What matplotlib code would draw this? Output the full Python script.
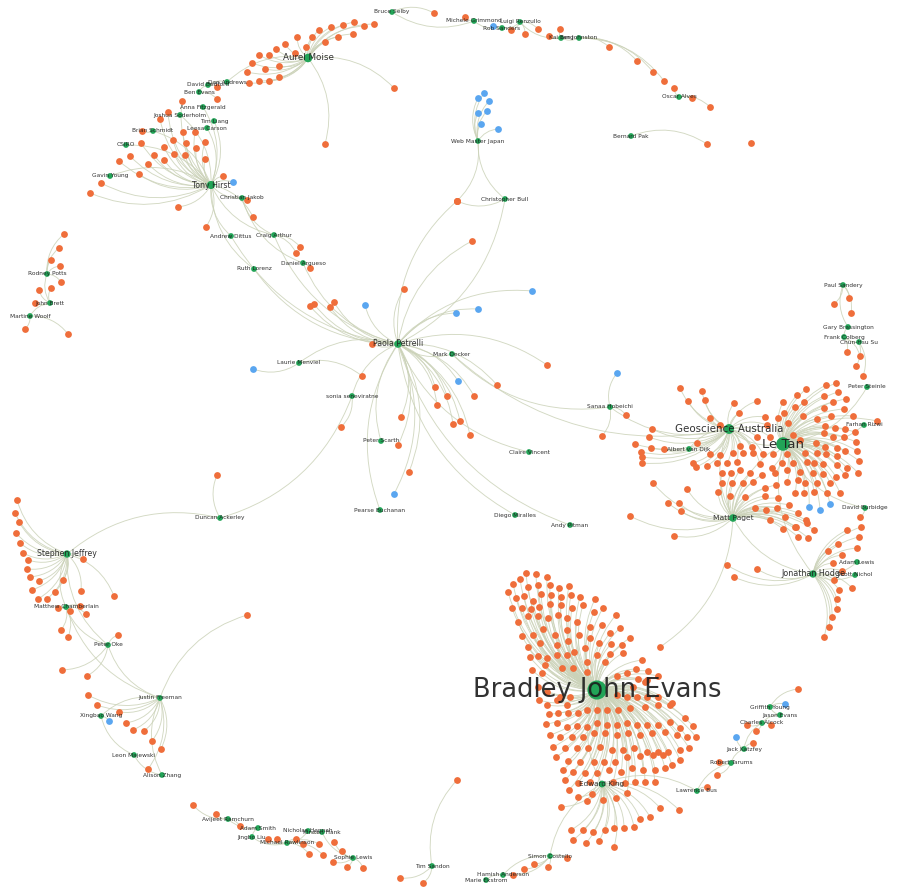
import matplotlib.pyplot as plt
from matplotlib.patches import FancyArrowPatch
import numpy as np

# ---- data: layout positions (x, y in layout pixels, y down) ----

hub_names = ['Bruce Selby', 'Michele Grimmond', 'Rob Sanders', 'Luigi Renzullo', 'Kai Berg',
             'Ian Johnston', 'Oscar Alves', 'Bernard Pak', 'Web Master Japan', 'Christopher Bull',
             'Aurel Moise', 'Dan Andrews', 'David Bedford', 'Ben Evans', 'Anna Fitzgerald',
             'Joshua Soderholm', 'Tim Liang', 'Leesa Carson', 'Brian Schmidt', 'CSIRO',
             'Gavin Young', 'Tony Hirst', 'Christian Jakob', 'Andrew Dittus', 'Craig Arthur',
             'Daniel Argueso', 'Ruth Lorenz', 'Rodney Potts', 'John Brett', 'Martine Woolf',
             'Paola Petrelli', 'Mark Decker', 'Laurie Menviel', 'sonia seneviratne', 'Peter Scarth',
             'Pearse Buchanan', 'Claire Vincent', 'Diego Miralles', 'Andy Pitman', 'Sanaa Hobeichi',
             'Geoscience Australia', 'Le Tan', 'Albert van Dijk', 'Matt Paget', 'Paul Sandery',
             'Gary Brassington', 'Frank Colberg', 'Chun-Hsu Su', 'Peter Steinle', 'Farhan Rizwi',
             'David Burbidge', 'Adam Lewis', 'Jonathan Hodge', 'Scott Nichol', 'Stephen Jeffrey',
             'Matthew Chamberlain', 'Peter Oke', 'Justin Freeman', 'Xingbao Wang', 'Leon Majewski',
             'Alison Zhang', 'Duncan Ackerley', 'Avijeet Ramchurn', 'Adam Smith', 'Jingbo Liu',
             'Michael Rawlinson', 'Nicholas Hannah', 'Kirsten Hank', 'Sophie Lewis', 'Tim Sandon',
             'Simon Costello', 'Hamish Anderson', 'Marie Ekstrom', 'Edward King', 'Bradley John Evans',
             'Griffith Young', 'Jason Evans', 'Charles Alcock', 'Jack Katzfey', 'Robert Tarums',
             'Lawrence Bus']
hub_x = [392, 474, 502, 520, 561, 579, 679, 631, 478, 505,
         308, 227, 208, 199, 203, 180, 214, 207, 153, 126,
         110, 211, 242, 231, 274, 303, 254, 47, 50, 30,
         398, 452, 299, 352, 381, 380, 529, 515, 570, 610,
         729, 783, 689, 733, 843, 848, 844, 859, 867, 864,
         865, 857, 813, 855, 67, 66, 108, 160, 101, 134,
         162, 220, 228, 258, 252, 287, 308, 322, 353, 432,
         550, 503, 486, 602, 597, 770, 780, 762, 744, 731, 697]
hub_y = [12, 21, 28, 22, 38, 38, 97, 136, 141, 199,
         58, 82, 85, 92, 107, 115, 121, 128, 131, 145,
         176, 185, 198, 236, 235, 263, 269, 274, 303, 316,
         344, 354, 363, 396, 441, 510, 452, 515, 525, 407,
         429, 444, 449, 518, 285, 327, 337, 342, 387, 425,
         508, 562, 574, 575, 554, 607, 645, 698, 716, 755,
         775, 518, 819, 828, 837, 843, 831, 832, 858, 866,
         856, 875, 880, 784, 690, 707, 715, 723, 749, 763, 791]

# publications / outputs linked to one person (orange)
leaves = {
    'Aurel Moise': '374,24 364,26 354,22 343,25 331,27 319,30 353,34 338,37 325,42 312,37 297,37 '
                   '306,47 285,44 276,49 295,53 269,55 259,55 252,63 279,66 265,69 247,72 279,77 '
                   '269,81 259,81 249,83 394,88 325,144',
    'Bruce Selby': '434,13',
    'Michele Grimmond': '465,17',
    'Luigi Renzullo': '511,30 525,34 538,29',
    'Kai Berg': '549,36 560,29',
    'Ian Johnston': '609,47 637,61 653,72 664,81',
    'Oscar Alves': '674,88 692,98 710,107',
    'Bernard Pak': '707,144',
    'Tony Hirst': '182,101 168,112 160,119 183,132 195,132 141,143 164,147 173,140 186,143 196,148 '
                  '205,142 130,156 154,155 174,154 185,155 119,161 148,164 164,160 205,159 139,174 '
                  '101,183 90,193 223,176 178,207 206,227 253,217',
    'David Bedford': '217,87',
    'Ben Evans': '217,99',
    'Brian Schmidt': '142,131',
    'Christian Jakob': '247,200',
    'Craig Arthur': '300,247 296,253',
    'Daniel Argueso': '310,268',
    'Rodney Potts': '64,234 59,248 51,260 60,266 61,282',
    'John Brett': '51,288 39,290 35,303',
    'Martine Woolf': '25,329 68,334',
    'Paola Petrelli': '310,306 314,304 330,307 334,302 372,344 401,417 398,445 409,472 435,387 '
                      '404,289 474,396 453,424 460,421 470,435 497,385 547,365 457,201 472,241 '
                      '437,405 447,396',
    'Web Master Japan': '457,201',
    'Christopher Bull': '457,201',
    'Laurie Menviel': '362,376',
    'sonia seneviratne': '341,427',
    'Duncan Ackerley': '217,475',
    'Sanaa Hobeichi': '626,415 602,436',
    'Albert van Dijk': '664,449',
    'Geoscience Australia': '680,388 702,391 688,401 705,400 734,403 757,401 739,413 720,425 710,418 '
                            '765,417 767,425 757,437 770,437 740,446 752,447 733,453 720,455 710,454 '
                            '717,463 727,463 737,462 743,453 753,453 763,454 760,464 696,467 707,466 '
                            '693,463 697,443 652,429 649,437 635,444 641,452 642,457 642,463 651,448',
    'Le Tan': '783,402 797,395 806,389 826,385 836,383 838,392 824,396 846,399 795,407 784,413 '
              '804,402 824,408 833,402 844,409 831,416 817,419 803,416 778,418 788,423 825,426 '
              '835,428 845,429 853,416 824,433 833,437 844,437 855,432 793,435 800,440 816,443 '
              '825,447 837,448 845,451 856,442 857,451 859,461 858,473 847,468 837,456 826,454 '
              '817,453 805,453 787,454 773,454 772,468 782,463 793,463 807,462 814,463 823,464 '
              '837,465 845,475 836,477 823,474 813,473 800,472 787,470 775,473 787,482 798,480 '
              '805,483 817,483 830,483 840,493 827,493 814,492 804,493 795,493 877,421',
    'Matt Paget': '762,475 750,473 740,470 731,473 722,473 722,483 732,483 743,483 753,482 765,488 '
                  '776,485 778,498 765,496 755,508 766,510 777,508 789,505 798,513 806,520 814,530 '
                  '808,538 798,537 795,527 783,529 785,517 770,520 745,497 730,496 718,492 687,489 '
                  '668,503 679,503 681,511 653,483 630,516 674,536 660,647 796,527 807,523',
    'Jonathan Hodge': '861,527 859,537 857,548 847,530 838,544 828,551 842,555 833,563 842,571 '
                      '834,580 852,588 839,590 837,599 837,609 832,617 829,627 824,637 727,565 '
                      '734,577 757,569',
    'David Burbidge': '860,517',
    'Paul Sandery': '849,298 834,304 851,313',
    'Frank Colberg': '847,352 860,356',
    'Chun-Hsu Su': '856,366 863,376',
    'Stephen Jeffrey': '17,500 15,513 19,522 16,533 20,543 23,553 28,560 83,559 27,569 30,577 39,581 '
                       '63,580 32,590 55,592 81,591 114,596 38,599 47,599',
    'Matthew Chamberlain': '58,608 70,611 80,606 86,614 61,630 68,637',
    'Peter Oke': '118,635 62,670 87,676',
    'Justin Freeman': '88,695 97,705 119,712 126,723 133,730 144,731 152,741 161,749 148,769 247,615',
    'Avijeet Ramchurn': '193,805 216,814 240,826',
    'Michael Rawlinson': '268,839 277,839 296,839 303,844 319,844 309,854 323,855',
    'Sophie Lewis': '334,842 342,851 333,862 347,867 363,868',
    'Tim Sandon': '400,878 423,883 457,780',
    'Bradley John Evans': '526,573 536,574 547,577 520,579 513,584 528,587 538,585 550,585 559,588 '
                          '569,586 508,592 516,598 524,596 533,601 541,594 551,595 561,597 571,595 '
                          '580,597 595,599 512,608 522,608 531,609 539,607 550,604 561,605 572,608 '
                          '583,605 594,612 603,608 518,622 528,616 538,616 548,618 558,615 567,618 '
                          '577,622 590,627 602,625 616,615 522,636 533,635 543,629 555,635 567,630 '
                          '579,635 590,638 599,643 610,633 620,628 630,638 528,647 540,643 557,645 '
                          '568,641 574,652 585,648 611,644 622,645 530,657 538,656 547,658 545,665 '
                          '557,655 567,655 587,662 597,655 610,654 623,653 642,660 532,670 542,673 '
                          '562,668 573,668 587,672 605,662 617,676 627,673 636,669 648,671 638,679 '
                          '647,680 658,676 538,687 547,692 560,697 570,697 617,695 627,697 637,697 '
                          '647,697 658,697 672,703 633,687 645,682 '
                          '539,700 547,705 557,700 567,705 549,714 558,713 568,713 578,713 587,710 '
                          '597,710 607,710 618,710 630,708 645,707 658,705 670,705 685,718 693,726 '
                          '680,728 670,722 658,725 647,725 637,725 627,723 617,725 607,725 597,723 '
                          '587,727 577,726 567,727 557,723 546,724 550,735 560,737 572,737 583,737 '
                          '594,733 605,733 617,735 628,733 640,735 652,733 665,732 677,735 687,737 '
                          '696,737 689,748 680,750 668,752 658,752 647,752 634,748 623,750 612,750 '
                          '600,747 588,748 577,748 565,748 553,747 556,757 568,761 580,762 594,762 '
                          '604,762 615,762 627,757 640,756 653,755 663,755 680,760 672,765 665,768 '
                          '655,770 643,770 632,768 621,772 609,770 597,773 585,773 573,772 563,770 '
                          '565,780 578,783 590,782 613,782 625,783 635,782 645,782 655,782 569,790 '
                          '592,794 627,793',
    'Edward King': '578,797 587,801 603,800 616,798 561,807 571,830 583,830 593,832 605,830 614,828 '
                   '624,828 634,827 573,840 586,843 599,841 614,847 650,817 640,819 660,808 679,810',
    'Simon Costello': '567,858 548,867 534,864 524,869 513,875',
    'Griffith Young': '798,689',
    'Charles Alcock': '747,725 771,725 756,731',
    'Jack Katzfey': '753,743',
    'Robert Tarums': '719,762 717,775',
    'Lawrence Bus': '707,787',
}
unlinked = '751,143'

# datasets / software (blue)
blue_leaves = {
    'Web Master Japan': '484,93 478,98 489,101 478,113 487,111 481,124 498,129',
    'Rob Sanders': '493,26',
    'Tony Hirst': '233,182',
    'Paola Petrelli': '365,305 456,313 478,309 458,381 394,494 532,291',
    'Laurie Menviel': '253,369',
    'Sanaa Hobeichi': '617,373',
    'Le Tan': '809,507 820,510 830,504',
    'Xingbao Wang': '109,721',
    'Griffith Young': '785,704',
    'Jack Katzfey': '736,737',
}

links = [('Bruce Selby', 'Michele Grimmond'), ('Michele Grimmond', 'Rob Sanders'),
         ('Rob Sanders', 'Luigi Renzullo'), ('Luigi Renzullo', 'Kai Berg'), ('Kai Berg', 'Ian Johnston'),
         ('Aurel Moise', 'Dan Andrews'), ('Dan Andrews', 'David Bedford'), ('David Bedford', 'Ben Evans'),
         ('Tony Hirst', 'Anna Fitzgerald'), ('Tony Hirst', 'Joshua Soderholm'), ('Tony Hirst', 'Tim Liang'),
         ('Tony Hirst', 'Leesa Carson'), ('Tony Hirst', 'Brian Schmidt'), ('Tony Hirst', 'CSIRO'),
         ('Tony Hirst', 'Gavin Young'), ('Tony Hirst', 'Christian Jakob'), ('Tony Hirst', 'Andrew Dittus'),
         ('Tony Hirst', 'Craig Arthur'), ('Tony Hirst', 'Ruth Lorenz'), ('Christian Jakob', 'Daniel Argueso'),
         ('Christian Jakob', 'Craig Arthur'), ('Andrew Dittus', 'Paola Petrelli'),
         ('Ruth Lorenz', 'Paola Petrelli'), ('Daniel Argueso', 'Paola Petrelli'),
         ('Craig Arthur', 'Paola Petrelli'), ('Rodney Potts', 'John Brett'), ('John Brett', 'Martine Woolf'),
         ('Paola Petrelli', 'Mark Decker'), ('Paola Petrelli', 'sonia seneviratne'),
         ('Paola Petrelli', 'Peter Scarth'), ('Paola Petrelli', 'Pearse Buchanan'),
         ('Paola Petrelli', 'Claire Vincent'), ('Paola Petrelli', 'Diego Miralles'),
         ('Paola Petrelli', 'Andy Pitman'), ('Paola Petrelli', 'Laurie Menviel'),
         ('Paola Petrelli', 'Christopher Bull'), ('Web Master Japan', 'Christopher Bull'),
         ('Mark Decker', 'Geoscience Australia'), ('Mark Decker', 'Sanaa Hobeichi'),
         ('Sanaa Hobeichi', 'Geoscience Australia'), ('Geoscience Australia', 'Le Tan'),
         ('Geoscience Australia', 'Albert van Dijk'), ('Geoscience Australia', 'Matt Paget'),
         ('Le Tan', 'Matt Paget'), ('Le Tan', 'Farhan Rizwi'), ('Le Tan', 'Peter Steinle'),
         ('Le Tan', 'David Burbidge'), ('Le Tan', 'Jonathan Hodge'), ('Matt Paget', 'Jonathan Hodge'),
         ('Jonathan Hodge', 'Adam Lewis'), ('Jonathan Hodge', 'Scott Nichol'),
         ('Paul Sandery', 'Gary Brassington'), ('Gary Brassington', 'Frank Colberg'),
         ('Frank Colberg', 'Chun-Hsu Su'), ('Duncan Ackerley', 'Stephen Jeffrey'),
         ('Duncan Ackerley', 'sonia seneviratne'), ('Stephen Jeffrey', 'Matthew Chamberlain'),
         ('Stephen Jeffrey', 'Peter Oke'), ('Matthew Chamberlain', 'Peter Oke'),
         ('Matthew Chamberlain', 'Justin Freeman'), ('Peter Oke', 'Justin Freeman'),
         ('Justin Freeman', 'Xingbao Wang'), ('Justin Freeman', 'Alison Zhang'),
         ('Leon Majewski', 'Alison Zhang'), ('Xingbao Wang', 'Leon Majewski'),
         ('Avijeet Ramchurn', 'Adam Smith'), ('Adam Smith', 'Jingbo Liu'),
         ('Jingbo Liu', 'Michael Rawlinson'), ('Michael Rawlinson', 'Nicholas Hannah'),
         ('Nicholas Hannah', 'Kirsten Hank'), ('Kirsten Hank', 'Sophie Lewis'),
         ('Bradley John Evans', 'Edward King'), ('Edward King', 'Simon Costello'),
         ('Simon Costello', 'Hamish Anderson'), ('Hamish Anderson', 'Marie Ekstrom'),
         ('Griffith Young', 'Jason Evans'), ('Jason Evans', 'Charles Alcock'),
         ('Charles Alcock', 'Jack Katzfey'), ('Jack Katzfey', 'Robert Tarums'),
         ('Robert Tarums', 'Lawrence Bus'), ('Lawrence Bus', 'Edward King')]

# ---- style ----
ORANGE = '#EF6E3B'
GREEN = '#22A457'
BLUE = '#5AA6F0'
EDGE = '#CBD2B8'

label_size = {'Bradley John Evans': 18.5, 'Le Tan': 9.5, 'Geoscience Australia': 7.4,
              'Aurel Moise': 6.3, 'Tony Hirst': 5.6, 'Stephen Jeffrey': 5.6, 'Paola Petrelli': 5.6,
              'Jonathan Hodge': 5.8, 'Matt Paget': 5.4, 'Edward King': 5.2}
node_size = {'Bradley John Evans': 190, 'Le Tan': 95, 'Geoscience Australia': 50, 'Aurel Moise': 38,
             'Tony Hirst': 34, 'Paola Petrelli': 30, 'Stephen Jeffrey': 28, 'Matt Paget': 30,
             'Jonathan Hodge': 28, 'Edward King': 24}


def pts(s):
    return np.array([[float(v) for v in p.split(',')] for p in s.split()])


pos = {n: (x, y) for n, x, y in zip(hub_names, hub_x, hub_y)}

fig = plt.figure(figsize=(8.97, 8.94), dpi=100)
ax = fig.add_axes([0, 0, 1, 1])
ax.set_xlim(0, 897)
ax.set_ylim(894, 0)
ax.axis('off')


def edge(a, b):
    ax.add_patch(FancyArrowPatch(a, b, arrowstyle='-', connectionstyle='arc3,rad=0.25',
                                 shrinkA=0, shrinkB=0, color=EDGE, lw=0.65, alpha=0.85, zorder=1))


# edges
for group in (leaves, blue_leaves):
    for hub, s in group.items():
        for p in pts(s):
            edge(tuple(p), pos[hub])
for a, b in links:
    edge(pos[a], pos[b])

# nodes
orange = np.vstack([pts(s) for s in leaves.values()] + [pts(unlinked)])
ax.scatter(orange[:, 0], orange[:, 1], s=24, c=ORANGE, linewidths=0, zorder=2)
blue = np.vstack([pts(s) for s in blue_leaves.values()])
ax.scatter(blue[:, 0], blue[:, 1], s=24, c=BLUE, linewidths=0, zorder=2)
ax.scatter(hub_x, hub_y, s=[node_size.get(n, 17) for n in hub_names], c=GREEN,
           linewidths=0, zorder=3)

# labels
for n, x, y in zip(hub_names, hub_x, hub_y):
    ax.text(x, y, n, fontsize=label_size.get(n, 4.2), ha='center', va='center',
            color='#1c1c1c', alpha=0.9, zorder=4)

fig.savefig('out.png', dpi=100, facecolor='white')
